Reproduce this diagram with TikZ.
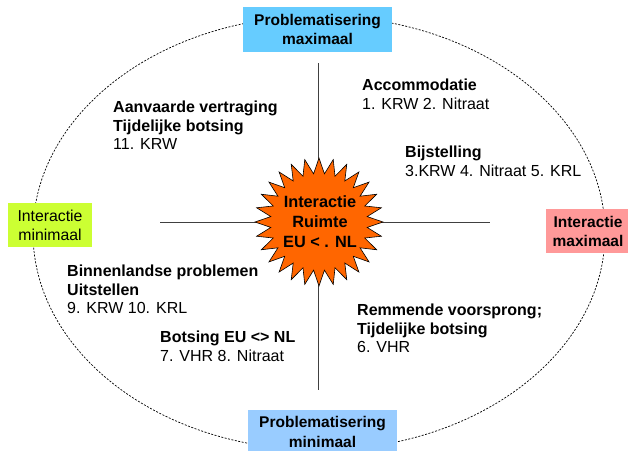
\documentclass[tikz,border=0pt]{standalone}
\usepackage{fontspec}
\setmainfont{Liberation Sans}
\usetikzlibrary{shapes.geometric}
\definecolor{topblue}{HTML}{66CCFF}
\definecolor{botblue}{HTML}{99CCFF}
\definecolor{limegreen}{HTML}{CCFF33}
\definecolor{salmon}{HTML}{FF9999}
\definecolor{burst}{HTML}{FF6600}
\definecolor{axisgray}{HTML}{404040}
\begin{document}
\begin{tikzpicture}[x=1pt,y=-1pt,
  txt/.style={inner sep=0pt,anchor=north west,align=left,
    font=\fontsize{16}{18.5}\selectfont},
  tag/.style={rectangle,inner sep=0pt,align=center,text=black},
  axis/.style={draw=axisgray,line width=0.8pt}]
\useasboundingbox (0,0) rectangle (628,450);

% outer dotted ellipse
\draw[line width=0.7pt,dash pattern=on 2pt off 1.5pt] (319,233) ellipse [x radius=286pt, y radius=217pt];

% cross of the two axes
\coordinate (vtop) at (318,63);
\coordinate (vbot) at (318,390);
\coordinate (hleft) at (160,222);
\coordinate (hright) at (490,222);
\draw[axis] (vtop) -- (vbot);
\draw[axis] (hleft) -- (hright);

% central burst
\node[star,star points=28,star point ratio=1.32,minimum size=128pt,inner sep=0pt,
  fill=burst,draw=black,line width=0.6pt] (core) at (319,222) {};
\node[inner sep=0pt,align=center,font=\bfseries\fontsize{16.3}{20}\selectfont] (coretext) at (320,222)
  {Interactie\\Ruimte\\EU < . NL};

% labels at the ends of the axes
\node[tag,fill=topblue,minimum width=149pt,minimum height=45pt,
  font=\bfseries\fontsize{15.5}{19}\selectfont] (pmax) at (317.5,29.5) {Problematisering\\maximaal};
\node[tag,fill=botblue,minimum width=149pt,minimum height=44pt,
  font=\bfseries\fontsize{15.5}{20}\selectfont] (pmin) at (322.5,432) {Problematisering\\minimaal};
\node[tag,fill=limegreen,minimum width=84pt,minimum height=44pt,
  font=\fontsize{15.8}{19}\selectfont] (imin) at (50,225) {Interactie\\minimaal};
\node[tag,fill=salmon,minimum width=84pt,minimum height=44pt,
  font=\bfseries\fontsize{15.5}{19}\selectfont] (imax) at (588,231) {Interactie\\maximaal};

% quadrant texts
\node[txt] (q1) at (362,79) {\textbf{Accommodatie}\\1. KRW 2. Nitraat};
\node[txt] (q2) at (405,146) {\textbf{Bijstelling}\\3.KRW 4. Nitraat 5. KRL};
\node[txt] (q3) at (113,101) {\textbf{Aanvaarde vertraging}\\\textbf{Tijdelijke botsing}\\11. KRW};
\node[txt] (q4) at (67,265) {\textbf{Binnenlandse problemen}\\\textbf{Uitstellen}\\9. KRW 10. KRL};
\node[txt] (q5) at (160,331) {\textbf{Botsing EU <> NL}\\7. VHR 8. Nitraat};
\node[txt] (q6) at (357,304) {\textbf{Remmende voorsprong;}\\\textbf{Tijdelijke botsing}\\6. VHR};
\end{tikzpicture}
\end{document}
